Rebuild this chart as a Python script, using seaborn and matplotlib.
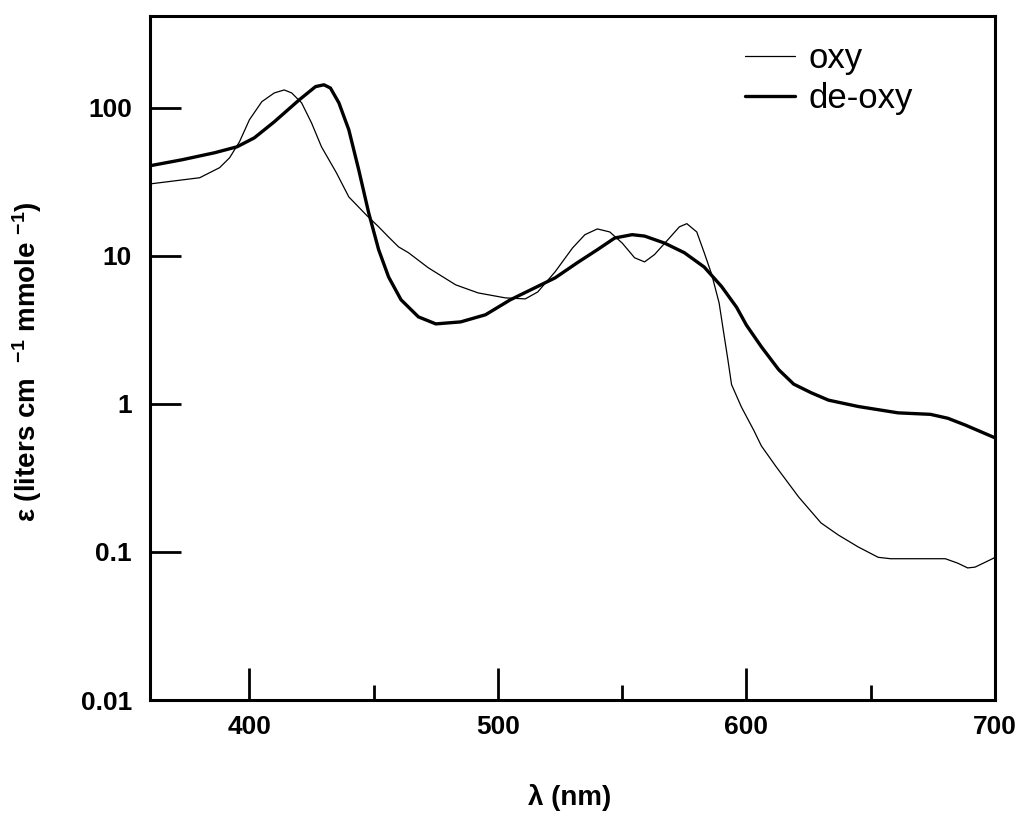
import numpy as np
import pandas as pd
import seaborn as sns
import matplotlib
matplotlib.use("Agg")
import matplotlib.pyplot as plt
from matplotlib.ticker import FixedLocator, NullLocator

# oxy-haemoglobin (thin line)
oxy_nm = [360, 380, 388, 392, 396, 400, 405, 410, 414, 417, 421, 425, 429, 435, 440,
          447, 452, 456, 460, 464, 472, 483, 492, 503, 511, 516, 523, 530, 535, 540,
          545, 550, 555, 559, 563, 569, 573, 576, 580, 583, 586, 589, 591, 592.5, 594,
          598, 603, 606, 612, 621, 630, 637, 645, 653, 658, 680, 685, 689, 692, 699, 700]
oxy_eps = [30.6, 33.7, 39.4, 45.9, 58.9, 83, 110, 126, 132, 126, 108, 79, 54.5, 36.4, 25,
           18.9, 15.7, 13.4, 11.5, 10.5, 8.3, 6.37, 5.62, 5.2, 5.12, 5.7, 7.8, 11.3, 13.9, 15.2,
           14.5, 12.2, 9.7, 9.1, 10.2, 13.2, 15.7, 16.5, 14.5, 10.5, 7.5, 4.8, 2.9, 2.0, 1.35,
           0.95, 0.66, 0.52, 0.375, 0.235, 0.157, 0.130, 0.108, 0.092, 0.090, 0.090, 0.084, 0.078, 0.079, 0.090, 0.092]

# de-oxy-haemoglobin (thick line)
deoxy_nm = [360, 373, 386, 395, 402, 410, 420, 426.6, 430, 432.6, 436, 440, 444, 448, 452,
            456, 461, 468, 475, 485, 495, 505, 515, 523, 532, 540, 547, 554, 559, 567,
            575, 583, 590, 596, 600, 606, 613, 619, 626, 633, 645, 661, 674, 681, 688, 699, 700]
deoxy_eps = [40.6, 44.6, 49.7, 54.5, 62.7, 80.4, 113, 139, 143, 136, 108, 71, 38, 19.5, 11.0,
             7.2, 5.05, 3.87, 3.47, 3.58, 4.0, 5.05, 6.1, 7.1, 9.0, 11, 13.2, 13.9, 13.6, 12.2,
             10.5, 8.4, 6.2, 4.5, 3.4, 2.43, 1.70, 1.36, 1.19, 1.06, 0.96, 0.87, 0.85, 0.80, 0.72, 0.60, 0.59]

y_ticks = [0.01, 0.1, 1, 10, 100]
y_labels = ["0.01", "0.1", "1", "10", "100"]
x_major = [400, 500, 600, 700]
x_minor = [450, 550, 650]

sns.set_style("ticks")
plt.rcParams["font.family"] = ["Liberation Sans", "DejaVu Sans"]
plt.rcParams["mathtext.fontset"] = "custom"
plt.rcParams["mathtext.rm"] = "Liberation Sans:bold"
plt.rcParams["mathtext.default"] = "rm"
for key in ["text.color", "axes.labelcolor", "xtick.color", "ytick.color", "axes.edgecolor"]:
    plt.rcParams[key] = "black"

fig = plt.figure(figsize=(10.18, 8.13), dpi=100)
ax = fig.add_axes([150 / 1018, 113 / 813, 845 / 1018, 684 / 813])

oxy = pd.DataFrame({"nm": oxy_nm, "eps": oxy_eps})
deoxy = pd.DataFrame({"nm": deoxy_nm, "eps": deoxy_eps})
sns.lineplot(data=oxy, x="nm", y="eps", ax=ax, color="black", linewidth=0.9, label="oxy")
sns.lineplot(data=deoxy, x="nm", y="eps", ax=ax, color="black", linewidth=2.4, label="de-oxy")

ax.set_yscale("log")
ax.set_xlim(360, 700)
ax.set_ylim(0.01, 10 ** 2.62)

ax.yaxis.set_major_locator(FixedLocator(y_ticks))
ax.yaxis.set_minor_locator(NullLocator())
ax.set_yticklabels(y_labels)
ax.xaxis.set_major_locator(FixedLocator(x_major))
ax.xaxis.set_minor_locator(FixedLocator(x_minor))
ax.set_xticklabels([str(v) for v in x_major])

for lab in ax.get_xticklabels() + ax.get_yticklabels():
    lab.set_fontweight("bold")
    lab.set_fontsize(19)

ax.tick_params(axis="y", which="major", direction="in", length=22, width=2, pad=13)
ax.tick_params(axis="x", which="major", direction="in", length=23, width=2, pad=11)
ax.tick_params(axis="x", which="minor", direction="in", length=11, width=2)

for sp in ax.spines.values():
    sp.set_visible(True)
    sp.set_linewidth(2.2)

ax.set_xlabel(r"λ (nm)", fontsize=20, fontweight="bold")
ax.set_ylabel(r"ε (liters cm  $^{-1}$ mmole $^{-1}$)", fontsize=20, fontweight="bold")
ax.xaxis.set_label_coords((570 - 150) / 845, -(784 - 700) / 684)
ax.yaxis.set_label_coords(-(150 - 44) / 845, (700 - 362) / 684)

ax.legend(loc="upper left", bbox_to_anchor=((745 - 150) / 845, (700 - 42) / 684),
          frameon=False, fontsize=25, handlelength=1.45, handletextpad=0.37,
          borderaxespad=0, borderpad=0, labelspacing=0.2)

fig.savefig("out.png", dpi=100)
